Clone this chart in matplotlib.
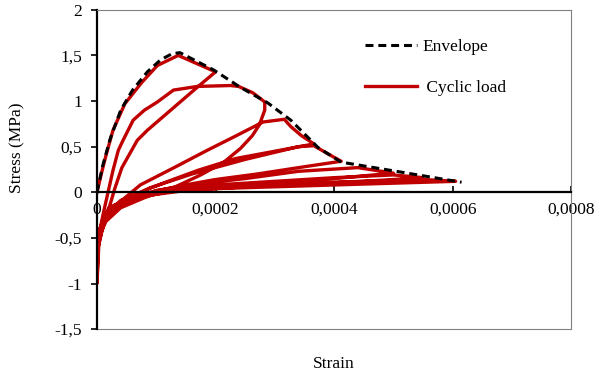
import numpy as np
import matplotlib.pyplot as plt

plt.rcParams['font.family'] = ['Liberation Serif', 'DejaVu Serif']
plt.rcParams['font.size'] = 12.5

# envelope (black dashed)
env_strain = [0, 0.000010, 0.000022, 0.000040, 0.000060, 0.000085, 0.000107,
              0.000127, 0.000140, 0.000197, 0.000242, 0.000288, 0.000327,
              0.000373, 0.000412, 0.000514, 0.000615]
env_stress = [0, 0.30, 0.58, 0.90, 1.12, 1.32, 1.45, 1.52, 1.53, 1.34, 1.15,
              0.98, 0.79, 0.49, 0.33, 0.22, 0.11]

# cyclic load, one branch group per cycle
c1_strain = [0, 0.000008, 0.000015, 0.000027, 0.000047, 0.000075, 0.000102,
             0.000137, 0.000200, 0.000169, 0.000119, 0.000085, 0.000068,
             0.000042, 0.000030, 0.000020, 0.000008, 0.000002, 0.0]
c1_stress = [0, 0.22, 0.40, 0.68, 0.97, 1.20, 1.39, 1.50, 1.32, 1.15, 0.87,
             0.68, 0.57, 0.27, 0.04, -0.18, -0.42, -0.60, -0.70]

c2_strain = [0.000004, 0.000010, 0.000017, 0.000027, 0.000036, 0.000044,
             0.000061, 0.000080, 0.000102, 0.000129, 0.000169, 0.000225,
             0.000239, 0.000263, 0.000283, 0.000283, 0.000274, 0.000262,
             0.000242, 0.000214, 0.000175, 0.000129, 0.000080, 0.000040,
             0.000015, 0.000003, 0.0]
c2_stress = [-0.45, -0.25, -0.05, 0.24, 0.46, 0.57, 0.79, 0.90, 0.99, 1.12,
             1.16, 1.17, 1.16, 1.09, 0.99, 0.90, 0.74, 0.62, 0.48, 0.33, 0.19,
             0.05, -0.06, -0.17, -0.32, -0.50, -0.62]

c3_strain = [0.000005, 0.000018, 0.000040, 0.000073, 0.000130, 0.000186,
             0.000235, 0.000280, 0.000316, 0.000327, 0.000345, 0.000366,
             0.000300, 0.000234, 0.000170, 0.000120, 0.000080, 0.000040,
             0.000015, 0.000004, 0.0]
c3_stress = [-0.42, -0.25, -0.10, 0.08, 0.27, 0.46, 0.62, 0.77, 0.80, 0.72,
             0.62, 0.53, 0.45, 0.37, 0.24, 0.12, 0.02, -0.09, -0.24, -0.45,
             -1.00]

c4_strain = [0.000002, 0.000012, 0.000040, 0.000090, 0.000160, 0.000250,
             0.000340, 0.000366, 0.000390, 0.000412, 0.000350, 0.000270,
             0.000200, 0.000140, 0.000090, 0.000050, 0.000020, 0.000004, 0.0]
c4_stress = [-0.60, -0.33, -0.12, 0.05, 0.20, 0.36, 0.50, 0.51, 0.42, 0.34,
             0.28, 0.20, 0.14, 0.07, 0.00, -0.08, -0.22, -0.45, -0.58]

c5_strain = [0.000010, 0.000040, 0.000100, 0.000170, 0.000250, 0.000340,
             0.000440, 0.000500, 0.000400, 0.000300, 0.000200, 0.000130,
             0.000070, 0.000030, 0.000008, 0.0]
c5_stress = [-0.30, -0.13, 0.02, 0.09, 0.15, 0.23, 0.27, 0.21, 0.15, 0.10,
             0.06, 0.02, -0.05, -0.16, -0.35, -0.55]

c6_strain = [0.000012, 0.000050, 0.000120, 0.000200, 0.000300, 0.000400,
             0.000500, 0.000550, 0.000450, 0.000350, 0.000250, 0.000150,
             0.000080, 0.000030, 0.000010, 0.0]
c6_stress = [-0.28, -0.09, 0.03, 0.08, 0.12, 0.16, 0.19, 0.16, 0.12, 0.09,
             0.06, 0.02, -0.04, -0.14, -0.30, -0.50]

c7_strain = [0.000015, 0.000060, 0.000140, 0.000250, 0.000350, 0.000450,
             0.000550, 0.000605, 0.000500, 0.000400, 0.000300, 0.000200,
             0.000120, 0.000060, 0.000020, 0.000005]
c7_stress = [-0.25, -0.07, 0.03, 0.07, 0.10, 0.12, 0.14, 0.12, 0.10, 0.08,
             0.06, 0.04, 0.01, -0.05, -0.17, -0.40]

cyc_strain = np.concatenate([c1_strain, c2_strain, c3_strain, c4_strain,
                             c5_strain, c6_strain, c7_strain])
cyc_stress = np.concatenate([c1_stress, c2_stress, c3_stress, c4_stress,
                             c5_stress, c6_stress, c7_stress])

x_ticks = [0, 0.0002, 0.0004, 0.0006, 0.0008]
x_labels = ['0', '0,0002', '0,0004', '0,0006', '0,0008']
y_ticks = [-1.5, -1, -0.5, 0, 0.5, 1, 1.5, 2]
y_labels = ['-1,5', '-1', '-0,5', '0', '0,5', '1', '1,5', '2']

fig = plt.figure(figsize=(5.95, 3.77), dpi=100)
ax = fig.add_axes([0.163, 0.127, 0.797, 0.847])

l_cyc, = ax.plot(cyc_strain, cyc_stress, color='#c00000', lw=2.4,
                 solid_joinstyle='round', zorder=2)
l_env, = ax.plot(env_strain, env_stress, color='black', lw=2.2,
                 dashes=(2.6, 1.6), zorder=3)

ax.set_xlim(0, 0.0008)
ax.set_ylim(-1.5, 2)
ax.set_xticks(x_ticks)
ax.set_xticklabels(x_labels)
ax.set_yticks(y_ticks)
ax.set_yticklabels(y_labels)

ax.spines['bottom'].set_position(('data', 0))
ax.spines['bottom'].set_linewidth(1.6)
ax.spines['left'].set_linewidth(1.6)
for s in ['top', 'right']:
    ax.spines[s].set_color('#808080')
    ax.spines[s].set_linewidth(0.8)
# bottom edge of the plot frame
ax.plot([0, 1], [0, 0], transform=ax.transAxes, color='#808080', lw=0.8,
        clip_on=False)

ax.tick_params(axis='x', direction='in', length=4, width=1.2, pad=7)
ax.tick_params(axis='y', direction='out', length=4, width=1.2, pad=7)

ax.set_xlabel('Strain')
ax.xaxis.set_label_coords(0.5, -0.085)
ax.set_ylabel('Stress (MPa)')
ax.yaxis.set_label_coords(-0.152, 0.567)

ax.legend([l_env, l_cyc], ['Envelope', ' Cyclic load'], loc='upper left',
          bbox_to_anchor=(0.565, 0.91), frameon=False, handlelength=3.0,
          labelspacing=1.45, handletextpad=0.3, borderpad=0, borderaxespad=0)

fig.savefig('out.png', dpi=100)
